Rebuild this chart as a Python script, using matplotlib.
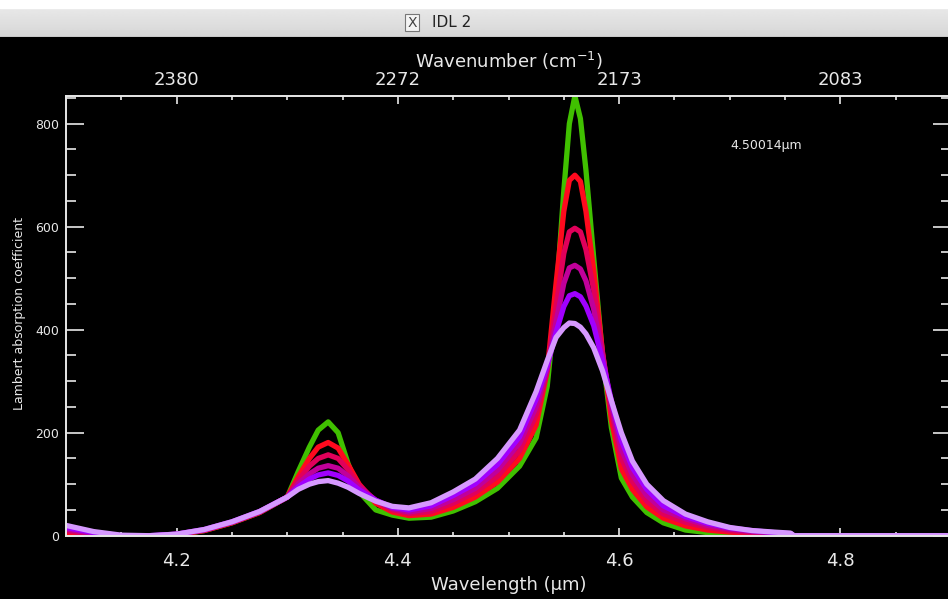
import numpy as np
import matplotlib
matplotlib.use("Agg")
import matplotlib.pyplot as plt
from matplotlib.ticker import MultipleLocator, FixedLocator

# ---------------- data ----------------
wavelength = [4.100, 4.125, 4.150, 4.175, 4.200, 4.225, 4.250, 4.275, 4.300, 4.310,
              4.320, 4.328, 4.337, 4.346, 4.355, 4.365, 4.380, 4.395, 4.410, 4.430,
              4.450, 4.470, 4.490, 4.510, 4.525, 4.535, 4.543, 4.550, 4.555, 4.560,
              4.565, 4.570, 4.577, 4.585, 4.593, 4.602, 4.612, 4.625, 4.640, 4.660,
              4.680, 4.700, 4.720, 4.740, 4.755, 4.758, 4.900]

green = [2, -2, -3, -2, 2, 10, 25, 45, 75, 125,
         172, 205, 221, 200, 140, 85, 50, 40, 34, 36,
         48, 66, 92, 135, 190, 290, 460, 670, 800, 854,
         810, 710, 540, 350, 210, 112, 75, 45, 25, 11,
         6, 4, 2, 1, 0, 0, 0]
red = [6, 0, -2, -2, 2, 10, 25, 45, 75, 115,
       150, 172, 181, 170, 138, 100, 63, 46, 39, 42,
       55, 75, 104, 150, 215, 320, 490, 630, 690, 700,
       688, 630, 515, 355, 225, 130, 90, 56, 34, 19,
       11, 7, 4, 2, 1, 0, 0]
crimson = [10, 2, -2, -1, 2, 11, 26, 46, 75, 108,
           135, 150, 157, 150, 128, 98, 67, 50, 43, 47,
           63, 84, 115, 165, 235, 322, 445, 548, 590, 597,
           590, 556, 478, 355, 242, 150, 105, 67, 42, 26,
           16, 10, 6, 4, 2, 0, 0]
magenta = [13, 4, -1, -1, 3, 11, 26, 46, 75, 101,
           120, 131, 136, 131, 116, 94, 69, 53, 46, 53,
           70, 92, 127, 180, 250, 325, 415, 490, 520, 525,
           518, 495, 440, 350, 252, 168, 118, 78, 50, 33,
           20, 13, 8, 5, 3, 0, 0]
purple = [16, 6, 0, 0, 3, 12, 27, 47, 75, 95,
          110, 118, 122, 117, 106, 89, 69, 55, 50, 58,
          78, 101, 138, 192, 265, 330, 395, 445, 466, 470,
          464, 446, 408, 340, 262, 185, 132, 90, 58, 37,
          24, 15, 10, 6, 4, 0, 0]
lavender = [20, 8, 1, 0, 3, 12, 27, 47, 75, 90,
            100, 105, 107, 102, 94, 82, 67, 57, 54, 64,
            85, 110, 150, 205, 280, 340, 385, 404, 413, 412,
            405, 392, 365, 320, 262, 200, 145, 100, 68, 42,
            27, 16, 10, 7, 5, 0, 0]

series = [green, red, crimson, magenta, purple, lavender]
colors = ["#40c000", "#ff0a1e", "#e0005a", "#c0009a", "#a000ff", "#d699ff"]

xticks_major = [4.2, 4.4, 4.6, 4.8]
xtick_labels = ["4.2", "4.4", "4.6", "4.8"]
top_labels = ["2380", "2272", "2173", "2083"]
yticks_major = [0, 200, 400, 600, 800]
ytick_labels = ["0", "200", "400", "600", "800"]
annotation = "4.50014\u00b5m"

# ---------------- figure ----------------
W, H = 948, 599
fig = plt.figure(figsize=(W / 100, H / 100), dpi=100, facecolor="black")

fg = "#e8e8e8"
L, R, B, T = 66, 951, 535.7, 96
ax = fig.add_axes([L / W, 1 - B / H, (R - L) / W, (B - T) / H])
ax.set_facecolor("black")
for c, s in zip(colors, series):
    ax.plot(wavelength, s, color=c, lw=3.8, solid_joinstyle="round", clip_on=True)

ax.set_xlim(4.1, 4.9)
ax.set_ylim(0, 853.8)
for sp in ax.spines.values():
    sp.set_color(fg)
    sp.set_linewidth(1.4)

ax.xaxis.set_major_locator(FixedLocator(xticks_major))
ax.set_xticklabels(xtick_labels)
ax.xaxis.set_minor_locator(MultipleLocator(0.05))
ax.yaxis.set_major_locator(FixedLocator(yticks_major))
ax.set_yticklabels(ytick_labels)
ax.yaxis.set_minor_locator(MultipleLocator(50))

ax.tick_params(axis="x", which="major", direction="in", length=5.5, width=1.2,
               colors=fg, labelsize=13, pad=12, top=False)
ax.tick_params(axis="x", which="minor", direction="in", length=3, width=1.2,
               colors=fg, top=False)
ax.tick_params(axis="y", which="major", direction="in", length=13, width=1.2,
               colors=fg, labelsize=9, pad=5, right=True)
ax.tick_params(axis="y", which="minor", direction="in", length=7, width=1.2,
               colors=fg, right=True)

ax.set_xlabel("Wavelength (\u00b5m)", color=fg, fontsize=13, labelpad=4)
ax.set_ylabel("Lambert absorption coefficient", color=fg, fontsize=9)
ax.yaxis.set_label_coords((26 - L) / (R - L), 0.505, transform=ax.transAxes)

top = ax.twiny()
top.set_xlim(ax.get_xlim())
top.xaxis.set_major_locator(FixedLocator(xticks_major))
top.set_xticklabels(top_labels)
top.xaxis.set_minor_locator(MultipleLocator(0.05))
top.tick_params(axis="x", which="major", direction="in", length=5.5, width=1.2,
                colors=fg, labelsize=13, pad=5)
top.tick_params(axis="x", which="minor", direction="in", length=3, width=1.2, colors=fg)
top.set_xlabel("Wavenumber (cm$^{-1}$)", color=fg, fontsize=13, labelpad=2)
for sp in top.spines.values():
    sp.set_visible(False)

fig.text(730 / W, 1 - 146 / H, annotation, color=fg, fontsize=9, ha="left", va="center")

# ---------------- window title bar ----------------
bar = fig.add_axes([0, 1 - 37 / H, 1, 37 / H])
grad = np.linspace(0.93, 0.84, 50)[:, None] * np.ones((50, 2))
bar.imshow(grad, cmap="gray", vmin=0, vmax=1, aspect="auto", extent=[0, W, 37, 0])
bar.fill_between([0, W], 0, 8, color="white")
bar.plot([0, W], [36.5, 36.5], color="#888888", lw=1)
bar.add_patch(plt.Rectangle((405, 14), 14, 17, facecolor="#f4f4f4", edgecolor="#777777", lw=0.8))
bar.text(412, 23, "X", color="#444444", fontsize=10, ha="center", va="center")
bar.text(432, 22.5, "IDL 2", color="#222222", fontsize=11, ha="left", va="center")
bar.set_xlim(0, W)
bar.set_ylim(37, 0)
bar.axis("off")

fig.savefig("out.png", dpi=100, facecolor="black")
